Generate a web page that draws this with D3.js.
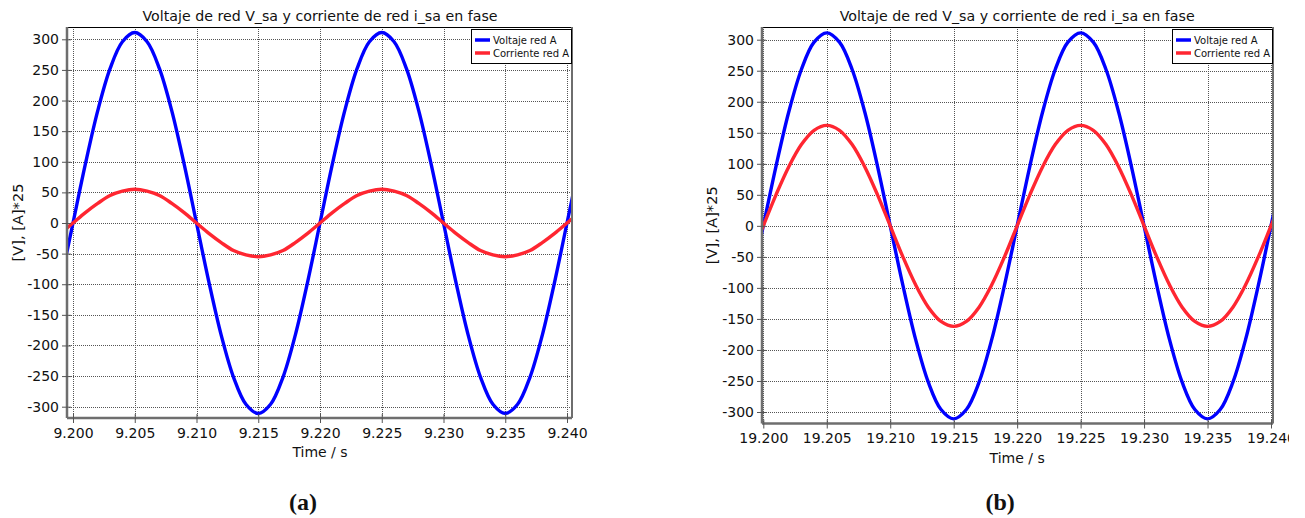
<!DOCTYPE html>
<html>
<head>
<meta charset="utf-8">
<script src="https://cdn.jsdelivr.net/npm/d3@7"></script>
<style>
  html, body { margin: 0; padding: 0; background: #fff; }
  svg { display: block; }
  text { font-family: "DejaVu Sans", Verdana, sans-serif; fill: #111; }
</style>
</head>
<body>
<svg id="chart" width="1305" height="518"></svg>
<script>
// Sample instants, in ms relative to the start of each window (1 ms step)
const sampleMs = d3.range(-1, 42);

// Grid voltage, phase A [V] (same waveform in both windows)
const voltageA = [-96, 0, 96, 183, 252, 296, 311, 296, 252, 183, 96,
  0, -96, -183, -252, -296, -311, -296, -252, -183, -96,
  0, 96, 183, 252, 296, 311, 296, 252, 183, 96,
  0, -96, -183, -252, -296, -311, -296, -252, -183, -96,
  0, 96];

// Grid current, phase A, scaled by 25 — window (a)
const currentA_a = [-17, 0, 17, 32, 45, 52, 55, 52, 45, 32, 17,
  0, -17, -32, -45, -52, -55, -52, -45, -32, -17,
  0, 17, 32, 45, 52, 55, 52, 45, 32, 17,
  0, -17, -32, -45, -52, -55, -52, -45, -32, -17,
  0, 17];

// Grid current, phase A, scaled by 25 — window (b)
const currentA_b = [-50, 0, 50, 95, 131, 154, 162, 154, 131, 95, 50,
  0, -50, -95, -131, -154, -162, -154, -131, -95, -50,
  0, 50, 95, 131, 154, 162, 154, 131, 95, 50,
  0, -50, -95, -131, -154, -162, -154, -131, -95, -50,
  0, 50];

const yTicks = [-300, -250, -200, -150, -100, -50, 0, 50, 100, 150, 200, 250, 300];
const xTicksA = [9.200, 9.205, 9.210, 9.215, 9.220, 9.225, 9.230, 9.235, 9.240];
const xTicksB = [19.200, 19.205, 19.210, 19.215, 19.220, 19.225, 19.230, 19.235, 19.240];

const titleText = "Voltaje de red V_sa y corriente de red i_sa en fase";
const seriesNames = ["Voltaje red A", "Corriente red A"];
const seriesColors = ["#0000ff", "#ff2631"];

const svg = d3.select("#chart");

const panels = [
  { id: "a", t0: 9.2, ticks: xTicksA, current: currentA_a, caption: "(a)",
    frame: { x0: 67, x1: 572, y0: 27, y1: 418 },
    xr: [73, 567], yr: [406.7, 39.3], ylabX: 18, clipW: 1305 },
  { id: "b", t0: 19.2, ticks: xTicksB, current: currentA_b, caption: "(b)",
    frame: { x0: 762, x1: 1273, y0: 27, y1: 423.5 },
    xr: [763.3, 1271], yr: [412, 39.7], ylabX: 712, clipW: 1289 }
];

panels.forEach(p => {
  const f = p.frame;
  const x = d3.scaleLinear().domain([p.t0, p.t0 + 0.04]).range(p.xr);
  const y = d3.scaleLinear().domain([-300, 300]).range(p.yr);

  // clip for the whole panel (long tick labels get cut at the page edge)
  svg.append("clipPath").attr("id", "page-" + p.id)
    .append("rect").attr("x", 0).attr("y", 0).attr("width", p.clipW).attr("height", 518);
  svg.append("clipPath").attr("id", "plot-" + p.id)
    .append("rect").attr("x", f.x0).attr("y", f.y0)
    .attr("width", f.x1 - f.x0).attr("height", f.y1 - f.y0);

  const g = svg.append("g").attr("clip-path", `url(#page-${p.id})`);

  // dotted grid
  const grid = g.append("g").attr("stroke", "#555").attr("stroke-width", 1)
    .attr("stroke-dasharray", "1,1").attr("shape-rendering", "crispEdges");
  grid.selectAll("line.gx").data(p.ticks).join("line").attr("class", "gx")
    .attr("x1", d => Math.round(x(d)) + 0.5).attr("x2", d => Math.round(x(d)) + 0.5)
    .attr("y1", f.y0).attr("y2", f.y1);
  grid.selectAll("line.gy").data(yTicks).join("line").attr("class", "gy")
    .attr("y1", d => Math.round(y(d)) + 0.5).attr("y2", d => Math.round(y(d)) + 0.5)
    .attr("x1", f.x0).attr("x2", f.x1);

  // curves
  const plot = g.append("g").attr("clip-path", `url(#plot-${p.id})`);
  const line = vals => d3.line()
    .x((d, i) => x(p.t0 + sampleMs[i] / 1000))
    .y(d => y(d))
    .curve(d3.curveCatmullRom.alpha(0.5))(vals);
  plot.append("path").attr("d", line(voltageA)).attr("fill", "none")
    .attr("stroke", seriesColors[0]).attr("stroke-width", 3.4);
  plot.append("path").attr("d", line(p.current)).attr("fill", "none")
    .attr("stroke", seriesColors[1]).attr("stroke-width", 3.4);

  // frame
  g.append("line").attr("x1", f.x0).attr("x2", f.x1).attr("y1", f.y0 + 0.5).attr("y2", f.y0 + 0.5)
    .attr("stroke", "#000").attr("stroke-width", 1);
  g.append("line").attr("x1", f.x1).attr("x2", f.x1).attr("y1", f.y0).attr("y2", f.y1)
    .attr("stroke", "#6e6e6e").attr("stroke-width", 2);

  // axes (plain hyphen for negative labels)
  const yAxis = d3.axisLeft(y).tickValues(yTicks).tickSize(5).tickPadding(3)
    .tickFormat(d => String(d));
  const ya = g.append("g").attr("transform", `translate(${f.x0},0)`).call(yAxis);
  ya.select(".domain").attr("d", `M0,${f.y0}V${f.y1}`).attr("stroke", "#6e6e6e").attr("stroke-width", 2.5);
  ya.selectAll(".tick line").attr("x1", 4).attr("x2", -5).attr("stroke", "#555");
  ya.selectAll(".tick text").attr("font-size", 14).attr("font-family", null).attr("fill", "#111");

  const xAxis = d3.axisBottom(x).tickValues(p.ticks).tickSize(5).tickPadding(5)
    .tickFormat(d3.format(".3f"));
  const xa = g.append("g").attr("transform", `translate(0,${f.y1})`).call(xAxis);
  xa.select(".domain").attr("d", `M${f.x0},0H${f.x1}`).attr("stroke", "#6e6e6e").attr("stroke-width", 2.5);
  xa.selectAll(".tick line").attr("y1", -4).attr("y2", 5).attr("stroke", "#555");
  xa.selectAll(".tick text").attr("font-size", 14).attr("font-family", null).attr("fill", "#111");

  const cx = (p.xr[0] + p.xr[1]) / 2;
  // title
  g.append("text").attr("x", cx).attr("y", 20.5).attr("text-anchor", "middle")
    .attr("font-size", 14.2).text(titleText);
  // axis titles
  g.append("text").attr("x", cx).attr("y", f.y1 + 39).attr("text-anchor", "middle")
    .attr("font-size", 14).text("Time / s");
  g.append("text").attr("transform", `translate(${p.ylabX + 5},${(f.y0 + f.y1) / 2}) rotate(-90)`)
    .attr("text-anchor", "middle").attr("font-size", 14.6).text("[V], [A]*25");

  // legend
  const lg = g.append("g").attr("transform", `translate(${f.x1 - 101},${f.y0 + 2})`);
  lg.append("rect").attr("x", 0.5).attr("y", 0.5).attr("width", 100).attr("height", 34)
    .attr("fill", "#fff").attr("stroke", "#000").attr("stroke-width", 1);
  seriesNames.forEach((name, i) => {
    const yy = 11 + i * 13;
    lg.append("line").attr("x1", 4).attr("x2", 19).attr("y1", yy).attr("y2", yy)
      .attr("stroke", seriesColors[i]).attr("stroke-width", 3.5);
    lg.append("text").attr("x", 22).attr("y", yy + 4).attr("font-size", 10).text(name);
  });

  // caption
  svg.append("text").attr("x", cx - 17).attr("y", 510).attr("text-anchor", "middle")
    .style("font-family", "'Liberation Serif', 'Times New Roman', serif")
    .style("font-weight", "bold").attr("font-size", 24).text(p.caption);
});
</script>
</body>
</html>
